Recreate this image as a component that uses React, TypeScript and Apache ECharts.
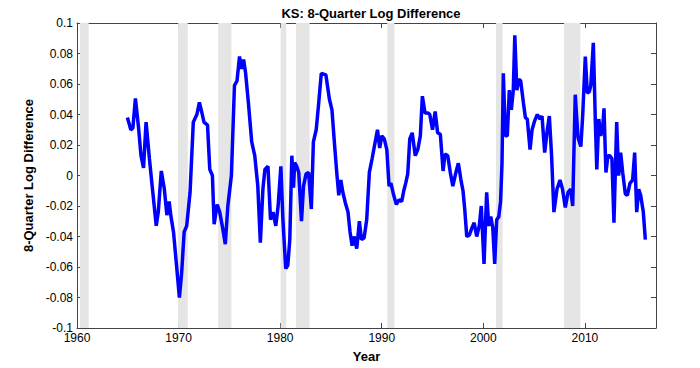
import React, { useEffect, useRef } from "react";
import * as echarts from "echarts";

const titleText = "KS: 8-Quarter Log Difference";
const yAxisName = "8-Quarter Log Difference";
const xAxisName = "Year";

const years = [
  1964.96, 1965.3, 1965.5, 1965.75, 1966.05, 1966.3, 1966.55, 1966.8, 1967.13, 1967.4,
  1967.8, 1968.0, 1968.3, 1968.6, 1968.85, 1969.07, 1969.23, 1969.5, 1969.8, 1970.08,
  1970.3, 1970.55, 1970.8, 1971.13, 1971.45, 1971.8, 1972.05, 1972.3, 1972.5, 1972.85,
  1973.07, 1973.33, 1973.5, 1973.8, 1974.05, 1974.3, 1974.6, 1974.85, 1975.2, 1975.5,
  1975.75, 1976.0, 1976.2, 1976.4, 1976.6, 1976.87, 1977.2, 1977.5, 1977.8, 1978.05,
  1978.3, 1978.5, 1978.8, 1979.05, 1979.3, 1979.57, 1979.8, 1980.07, 1980.27, 1980.55,
  1980.75, 1980.95, 1981.15, 1981.32, 1981.43, 1981.63, 1981.83, 1982.1, 1982.3, 1982.55,
  1982.8, 1983.07, 1983.27, 1983.55, 1983.8, 1984.05, 1984.5, 1984.85, 1985.1, 1985.37,
  1985.57, 1985.77, 1985.97, 1986.17, 1986.42, 1986.68, 1986.88, 1987.08, 1987.27, 1987.54,
  1987.8, 1988.0, 1988.26, 1988.52, 1988.78, 1989.05, 1989.3, 1989.58, 1989.8, 1990.0,
  1990.25, 1990.5, 1990.72, 1990.9, 1991.18, 1991.44, 1991.7, 1991.97, 1992.17, 1992.36,
  1992.56, 1992.76, 1993.0, 1993.3, 1993.55, 1993.8, 1994.0, 1994.26, 1994.53, 1994.73,
  1995.0, 1995.26, 1995.5, 1995.77, 1996.04, 1996.23, 1996.5, 1996.75, 1997.0, 1997.3,
  1997.54, 1997.8, 1998.0, 1998.17, 1998.37, 1998.63, 1998.9, 1999.1, 1999.35, 1999.6,
  1999.8, 2000.07, 2000.33, 2000.53, 2000.73, 2000.93, 2001.12, 2001.32, 2001.52, 2001.7,
  2001.84, 2001.97, 2002.17, 2002.36, 2002.56, 2002.76, 2002.95, 2003.1, 2003.3, 2003.5,
  2003.68, 2003.94, 2004.14, 2004.33, 2004.6, 2004.8, 2005.06, 2005.32, 2005.58, 2005.78,
  2006.04, 2006.3, 2006.5, 2006.72, 2006.95, 2007.25, 2007.55, 2007.8, 2008.07, 2008.34,
  2008.6, 2008.8, 2009.05, 2009.32, 2009.6, 2009.78, 2010.04, 2010.24, 2010.44, 2010.58,
  2010.83, 2011.03, 2011.17, 2011.37, 2011.56, 2011.76, 2011.88, 2012.07, 2012.27, 2012.46,
  2012.66, 2012.86, 2013.13, 2013.32, 2013.52, 2013.72, 2013.98, 2014.18, 2014.44, 2014.7,
  2014.9, 2015.1, 2015.3, 2015.49, 2015.75, 2015.95,
];

const values = [
  0.038, 0.030, 0.031, 0.0505, 0.032, 0.013, 0.005, 0.035, 0.011, -0.007,
  -0.033, -0.024, 0.003, -0.009, -0.026, -0.017, -0.026, -0.037, -0.059, -0.080,
  -0.064, -0.037, -0.033, -0.011, 0.035, 0.040, 0.048, 0.041, 0.035, 0.033,
  0.004, 0.000, -0.032, -0.019, -0.024, -0.033, -0.045, -0.020, 0.000, 0.059,
  0.062, 0.078, 0.070, 0.076, 0.067, 0.048, 0.022, 0.013, -0.007, -0.044,
  -0.009, 0.004, 0.006, -0.029, -0.024, -0.033, -0.020, 0.006, -0.029, -0.061,
  -0.059, -0.042, 0.013, -0.008, 0.0085, 0.006, 0.002, -0.030, -0.007, 0.001,
  0.002, -0.022, 0.022, 0.030, 0.048, 0.067, 0.066, 0.050, 0.043, 0.019,
  0.002, -0.013, -0.003, -0.011, -0.018, -0.024, -0.037, -0.046, -0.040, -0.048,
  -0.030, -0.042, -0.041, -0.029, 0.002, 0.011, 0.020, 0.030, 0.018, 0.026,
  0.024, 0.017, -0.007, -0.005, -0.013, -0.019, -0.016, -0.017, -0.010, -0.005,
  0.001, 0.024, 0.028, 0.013, 0.017, 0.026, 0.052, 0.041, 0.041, 0.040,
  0.030, 0.042, 0.028, 0.027, 0.003, 0.014, 0.013, 0.002, -0.007, 0.002,
  0.008, -0.003, -0.010, -0.022, -0.040, -0.039, -0.034, -0.031, -0.040, -0.033,
  -0.020, -0.058, -0.011, -0.033, -0.027, -0.034, -0.058, -0.029, -0.027, -0.017,
  0.008, 0.067, 0.026, 0.026, 0.056, 0.043, 0.056, 0.092, 0.056, 0.063,
  0.062, 0.048, 0.038, 0.037, 0.017, 0.030, 0.036, 0.040, 0.037, 0.039,
  0.015, 0.030, 0.039, 0.013, -0.024, -0.009, -0.003, -0.009, -0.021, -0.011,
  -0.009, -0.020, 0.053, 0.025, 0.019, 0.039, 0.078, 0.054, 0.055, 0.059,
  0.087, 0.035, 0.004, 0.037, 0.026, 0.032, 0.044, 0.002, 0.013, 0.013,
  0.011, -0.031, 0.035, 0.000, 0.015, 0.002, -0.012, -0.013, -0.005, -0.003,
  0.015, -0.024, -0.009, -0.013, -0.024, -0.042,
];

const recessionStarts = [1960.3, 1969.95, 1973.9, 1980.05, 1981.55, 1990.55, 2001.25, 2007.95];
const recessionEnds = [1961.15, 1970.9, 1975.2, 1980.6, 1982.9, 1991.25, 2001.9, 2009.55];

const xTickValues = [1960, 1970, 1980, 1990, 2000, 2010];

export default function App() {
  const ref = useRef<HTMLDivElement>(null);
  useEffect(() => {
    if (!ref.current) return;
    const chart = echarts.init(ref.current, null, { renderer: "svg" });
    const font = "'Liberation Sans', Arial, sans-serif";
    const axisColor = "#444";
    const xBase = {
      type: "value",
      min: 1960,
      max: 2017,
      interval: 10,
      splitLine: { show: false },
      axisLine: { show: true, onZero: false, lineStyle: { color: axisColor, width: 1 } },
      axisTick: { show: true, inside: true, length: 5, lineStyle: { color: axisColor } },
    };
    const yBase = {
      type: "value",
      min: -0.1,
      max: 0.1,
      interval: 0.02,
      splitLine: { show: false },
      axisLine: { show: true, onZero: false, lineStyle: { color: axisColor, width: 1 } },
      axisTick: { show: true, inside: true, length: 5, lineStyle: { color: axisColor } },
    };
    const option = {
      animation: false,
      backgroundColor: "#ffffff",
      title: {
        text: titleText,
        left: 366,
        top: 2,
        textAlign: "center",
        textStyle: { fontFamily: font, fontSize: 13, fontWeight: "bold", color: "#000" },
      },
      grid: { left: 77, right: 44, top: 23, bottom: 39, containLabel: false },
      xAxis: [
        {
          ...xBase,
          position: "bottom",
          name: xAxisName,
          nameLocation: "middle",
          nameGap: 22,
          nameTextStyle: { fontFamily: font, fontSize: 13, fontWeight: "bold", color: "#000" },
          axisLabel: {
            fontFamily: font,
            fontSize: 12,
            color: "#000",
            margin: 4,
            formatter: (v: number) => (xTickValues.includes(v) ? String(v) : ""),
          },
        },
        { ...xBase, position: "top", axisLabel: { show: false } },
      ],
      yAxis: [
        {
          ...yBase,
          position: "left",
          name: yAxisName,
          nameLocation: "middle",
          nameGap: 40,
          nameTextStyle: { fontFamily: font, fontSize: 13, fontWeight: "bold", color: "#000" },
          axisLabel: { fontFamily: font, fontSize: 12, color: "#000", margin: 4 },
        },
        { ...yBase, position: "right", axisLabel: { show: false } },
      ],
      series: [
        {
          type: "line",
          data: [],
          z: 1,
          silent: true,
          markArea: {
            silent: true,
            itemStyle: { color: "#e5e5e5" },
            data: recessionStarts.map((s, i) => [{ xAxis: s }, { xAxis: recessionEnds[i] }]),
          },
        },
        {
          type: "line",
          z: 3,
          showSymbol: false,
          symbol: "none",
          data: years.map((y, i) => [y, values[i]]),
          lineStyle: { color: "#0000ff", width: 3.5 },
          itemStyle: { color: "#0000ff" },
        },
      ],
    };
    chart.setOption(option as any);
    return () => chart.dispose();
  }, []);
  return (
    <div
      ref={ref}
      style={{ position: "fixed", left: 0, top: 0, width: 700, height: 368, background: "#fff" }}
    />
  );
}
